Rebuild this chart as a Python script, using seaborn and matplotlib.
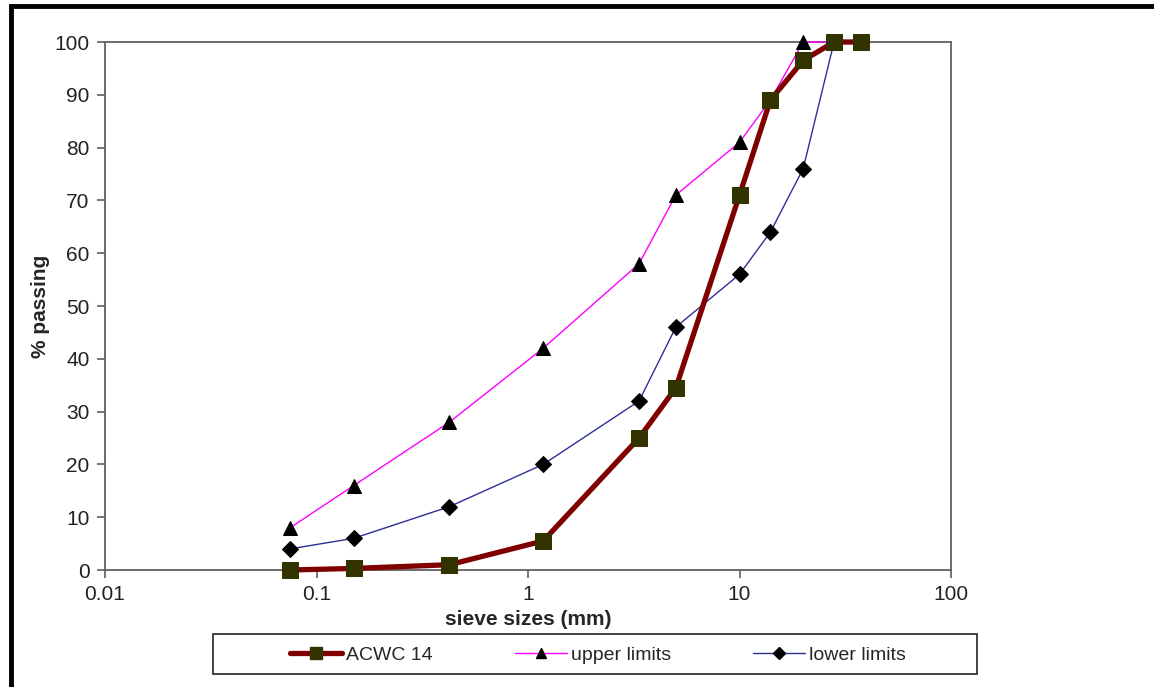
import matplotlib
matplotlib.use("Agg")
import matplotlib.pyplot as plt
import seaborn as sns
import pandas as pd
from matplotlib.lines import Line2D
from matplotlib.patches import Rectangle

# ---- data ----
sieve_sizes = [0.075, 0.15, 0.425, 1.18, 3.35, 5, 10, 14, 20, 28, 37.5]
acwc14 = [0, 0.3, 1, 5.5, 25, 34.5, 71, 89, 96.5, 100, 100]
upper_limits = [8, 16, 28, 42, 58, 71, 81, 89, 100, 100, 100]
lower_limits = [4, 6, 12, 20, 32, 46, 56, 64, 76, 100, 100]
series_names = ["ACWC 14", "upper limits", "lower limits"]
x_ticks = [0.01, 0.1, 1, 10, 100]
x_tick_labels = ["0.01", "0.1", "1", "10", "100"]
y_ticks = list(range(0, 101, 10))

sns.set_style("white")
plt.rcParams['font.family'] = ['Liberation Sans', 'DejaVu Sans']

fig = plt.figure(figsize=(11.54, 6.87), dpi=100)
ax = fig.add_axes([105/1154, 1-570/687, (951-105)/1154, (570-42)/687])

df = pd.DataFrame({"size": sieve_sizes, "ACWC 14": acwc14,
                   "upper limits": upper_limits, "lower limits": lower_limits})

sns.lineplot(data=df, x="size", y="upper limits", ax=ax, color="#FF00FF", lw=1.0,
             marker="^", markersize=10, markerfacecolor="black", markeredgecolor="black",
             zorder=3, clip_on=False)
sns.lineplot(data=df, x="size", y="lower limits", ax=ax, color="#2E2E9A", lw=1.0,
             marker="D", markersize=8, markerfacecolor="black", markeredgecolor="black",
             zorder=3, clip_on=False)
sns.lineplot(data=df, x="size", y="ACWC 14", ax=ax, color="#800000", lw=3.8,
             marker="s", markersize=11, markerfacecolor="#333300", markeredgecolor="#333300",
             zorder=4, clip_on=False)

ax.set_xscale("log")
ax.set_xlim(0.01, 100)
ax.set_ylim(0, 100)
ax.xaxis.set_major_locator(matplotlib.ticker.FixedLocator(x_ticks))
ax.xaxis.set_minor_locator(matplotlib.ticker.NullLocator())
ax.set_xticks(x_ticks)
ax.set_xticklabels(x_tick_labels)
ax.set_yticks(y_ticks)
ax.set_yticklabels([str(v) for v in y_ticks])
ax.tick_params(axis="both", which="major", direction="out", length=6, width=1.2,
               color="#606060", labelsize=15, labelcolor="#222222", pad=5,
               bottom=True, left=True)
for sp in ax.spines.values():
    sp.set_visible(True)
    sp.set_color("#606060")
    sp.set_linewidth(1.3)
ax.set_xlabel("sieve sizes (mm)", fontsize=15, fontweight="bold", labelpad=4)
ax.set_ylabel("% passing", fontsize=15, fontweight="bold", labelpad=3)
ax.grid(False)

# legend
handles = [
    Line2D([], [], color="#800000", lw=3.8, marker="s", markersize=9,
           markerfacecolor="#333300", markeredgecolor="#333300"),
    Line2D([], [], color="#FF00FF", lw=1.0, marker="^", markersize=7,
           markerfacecolor="black", markeredgecolor="black"),
    Line2D([], [], color="#2E2E9A", lw=1.0, marker="D", markersize=6,
           markerfacecolor="black", markeredgecolor="black"),
]
fig.legend(handles, series_names, loc="center", bbox_to_anchor=(598/1154, 1-655/687),
           ncol=3, frameon=False, fontsize=14, handlelength=2.7, handletextpad=0.2,
           columnspacing=4.2)
fig.add_artist(Rectangle((213/1154, 1-674/687), (977-213)/1154, 40/687,
                         transform=fig.transFigure, fill=False, edgecolor="#222222", lw=1.2))

# image border (top and left)
fig.add_artist(Line2D([9/1154, 1], [1-6/687, 1-6/687], transform=fig.transFigure,
                      color="black", lw=3.5, solid_capstyle="butt"))
fig.add_artist(Line2D([11/1154, 11/1154], [0, 1-4/687], transform=fig.transFigure,
                      color="black", lw=3.5, solid_capstyle="butt"))

fig.savefig("out.png", dpi=100)
